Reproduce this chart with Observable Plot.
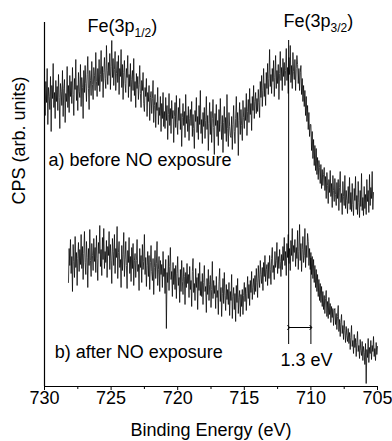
<!DOCTYPE html>
<html>
<head>
<meta charset="utf-8">
<script src="https://cdn.jsdelivr.net/npm/d3@7"></script>
<script src="https://cdn.jsdelivr.net/npm/@observablehq/plot@0.6"></script>
<style>
  html, body { margin: 0; padding: 0; background: white; }
</style>
</head>
<body>
<div id="chart"></div>
<script>
// ---- data ----
const step = 0.05;
const aStart = 730.0;   // spectrum a) first binding energy (eV)
const bStart = 728.2;   // spectrum b) first binding energy (eV)

// a) before NO exposure (arb. units), one row per eV
const aCounts = [
296,271,305,284,318,262,299,290,277,310,255,301,288,323,279,294,268,306,285,300,
276,312,289,258,303,295,281,316,270,298,307,264,293,285,320,279,301,274,311,290,
305,283,319,292,271,308,297,327,286,301,276,314,295,289,322,280,309,299,268,316,
294,321,303,285,312,330,298,277,316,306,291,325,302,287,319,311,296,334,305,290,
318,301,327,295,312,336,305,320,289,314,329,308,298,341,316,302,324,311,333,297,
320,346,309,328,301,317,335,296,313,325,304,331,292,318,310,337,299,322,287,314,
326,303,294,318,309,331,289,312,300,323,285,307,316,296,328,291,305,279,313,298,
310,287,302,321,293,279,306,296,314,283,275,299,290,308,270,294,285,301,266,289,
295,273,288,306,264,281,292,259,284,276,299,262,279,271,290,255,283,268,294,260,
275,258,289,266,281,247,272,293,261,278,253,286,268,276,244,270,284,259,291,264,
252,279,266,288,257,273,240,269,283,261,275,249,292,263,271,255,280,246,268,277,
261,285,250,272,258,238,276,265,289,254,270,247,281,262,296,253,267,243,274,260,
279,248,266,290,257,271,236,263,284,252,275,244,268,287,259,232,273,261,282,250,
266,241,277,255,288,262,247,271,234,264,280,253,269,245,292,258,240,274,260,251,
249,270,237,262,281,255,243,268,290,259,274,231,266,284,252,277,261,246,286,269,
258,279,266,293,251,275,287,264,298,272,283,256,290,276,301,268,285,294,273,288,
275,297,284,269,305,289,311,280,296,318,290,303,281,314,298,323,292,308,337,300,
312,293,318,305,326,290,309,331,298,316,303,322,287,313,335,306,319,296,328,310,
324,301,316,338,306,319,293,329,312,341,304,321,298,334,315,307,327,296,318,331,
322,303,318,296,314,321,292,308,285,301,280,296,271,290,265,281,257,274,250,262,
262,236,255,228,247,221,241,216,238,212,229,207,226,219,203,222,198,217,201,212,
219,196,210,188,214,201,183,207,194,216,190,203,179,211,196,185,208,192,181,204,
188,207,176,199,215,184,193,172,205,190,181,211,178,196,186,173,200,183,209,177,
194,175,203,182,171,198,186,210,177,191,172,205,184,169,196,180,213,176,189,171,
200,178,192,172,207,185,196,174,212,181,199,188,215,177,194
];

// b) after NO exposure (arb. units), one row per eV
const bCounts = [
104,138,121,147,113,130,95,142,125,109,150,119,134,101,128,144,115,137,122,152,
118,140,107,133,155,124,112,145,129,99,138,121,157,126,110,143,131,116,148,125,
139,114,151,128,106,144,133,161,120,137,111,149,127,158,118,135,124,146,109,140,
131,155,117,142,126,103,148,135,121,152,113,138,129,160,108,134,145,119,127,99,
141,116,132,154,110,127,145,121,98,136,124,149,113,130,105,139,118,143,101,126,
133,109,126,147,115,122,96,138,119,131,104,142,117,125,152,112,129,100,121,135,
110,131,97,124,141,115,106,128,92,119,136,108,123,145,101,117,130,95,126,112,
122,99,135,110,118,93,127,58,114,104,131,96,120,139,107,115,90,124,102,118,
97,121,88,113,130,101,109,84,117,95,126,105,92,119,110,82,114,99,123,103,
112,89,120,97,106,80,115,128,94,103,86,118,99,109,77,113,96,124,91,105,
90,113,82,104,121,95,100,74,108,92,117,86,102,111,79,97,125,88,106,93,
101,78,110,89,96,72,105,118,85,99,70,93,108,83,114,91,76,102,87,97,
82,104,71,95,86,112,68,90,99,77,93,65,101,84,108,73,89,96,70,92,
80,97,72,91,104,85,99,76,93,110,88,102,81,106,94,115,87,99,108,92,
111,95,118,104,89,121,108,99,126,112,103,119,96,124,110,131,105,117,122,101,
124,108,131,117,102,128,139,114,121,107,135,119,126,144,113,130,118,137,125,110,
132,117,140,126,149,121,135,111,143,129,152,123,138,116,146,131,158,125,141,134,
147,120,139,128,156,117,135,162,126,143,115,137,150,124,131,158,119,141,129,153,
145,121,138,117,134,112,130,108,127,104,121,99,117,95,112,90,107,86,103,84,
100,80,95,77,91,73,88,96,70,85,68,89,72,83,64,80,69,78,61,76,
78,62,73,57,70,81,55,67,50,64,72,53,61,47,66,56,44,60,51,45,
58,43,54,37,49,61,40,46,33,52,39,48,30,44,55,35,41,28,47,36,
31,45,26,40,34,22,43,3,37,29,48,24,39,33,46,27,41,35,50,30,
38,26,44,32,40
];

const majorTicks = [730, 725, 720, 715, 710, 705];
const minorTicks = [727.5, 722.5, 717.5, 712.5, 707.5];

// peak labels
const peakMain = ["Fe(3p", "Fe(3p"];
const peakSub = ["1/2", "3/2"];
const peakE = [726.77, 712.06];
const peakY = [355, 360];

// spectrum labels
const noteText = ["a) before NO exposure", "b) after NO exposure"];
const noteE = [729.7, 729.23];
const noteY = [221, 29];

// peak-shift markers
const shiftE = [711.67, 710.0];
const shiftTop = [346, 128];
const shiftBottom = [42, 42];
const shiftArrowY = 59;
const shiftText = "1.3 eV";
const shiftTextY = 21;

const xLabel = "Binding Energy (eV)";
const yLabel = "CPS (arb. units)";

// ---- tables ----
const seriesA = aCounts.map((c, i) => ({E: (aStart * 100 - i * 5) / 100, cps: c}));
const seriesB = bCounts.map((c, i) => ({E: (bStart * 100 - i * 5) / 100, cps: c}));
const peaks = peakMain.map((m, i) => ({main: m, sub: peakSub[i], E: peakE[i], y: peakY[i]}));
const notes = noteText.map((t, i) => ({t, E: noteE[i], y: noteY[i]}));
const shifts = shiftE.map((e, i) => ({E: e, y1: shiftBottom[i], y2: shiftTop[i]}));

function subRender(index, scales, values, dimensions, context, next) {
  const g = next(index, scales, values, dimensions, context);
  const texts = g.querySelectorAll("text");
  texts.forEach((t, j) => {
    const d = peaks[index[j]];
    t.textContent = "";
    const ns = "http://www.w3.org/2000/svg";
    const t1 = document.createElementNS(ns, "tspan");
    t1.textContent = d.main;
    const t2 = document.createElementNS(ns, "tspan");
    t2.textContent = d.sub;
    t2.setAttribute("font-size", "12");
    t2.setAttribute("dy", "5");
    const t3 = document.createElementNS(ns, "tspan");
    t3.textContent = ")";
    t3.setAttribute("dy", "-5");
    t.append(t1, t2, t3);
  });
  return g;
}

const chart = Plot.plot({
  width: 392,
  height: 441,
  marginLeft: 44,
  marginRight: 15,
  marginTop: 22,
  marginBottom: 55,
  x: {domain: [730, 705], label: null},
  y: {domain: [0, 364], axis: null},
  style: {fontFamily: "'Liberation Sans', Arial, sans-serif", fontSize: "18px", color: "black", background: "white"},
  marks: [
    Plot.axisX({ticks: majorTicks, tickSize: 4, tickPadding: 1, tickFormat: d => String(d), label: null, fontSize: 18}),
    Plot.axisX({ticks: minorTicks, tickSize: 3, tickFormat: () => "", label: null}),
    Plot.ruleX([730], {stroke: "black", strokeWidth: 1.2}),
    Plot.ruleY([0], {stroke: "black", strokeWidth: 1.2}),
    Plot.line(seriesA, {x: "E", y: "cps", stroke: "black", strokeWidth: 0.75}),
    Plot.line(seriesB, {x: "E", y: "cps", stroke: "black", strokeWidth: 0.75}),
    Plot.ruleX(shifts, {x: "E", y1: "y1", y2: "y2", stroke: "black", strokeWidth: 1}),
    Plot.link([{x1: shiftE[0], x2: shiftE[1], y: shiftArrowY}], {x1: "x1", x2: "x2", y1: "y", y2: "y", stroke: "black", strokeWidth: 1, markerStart: "arrow", markerEnd: "arrow"}),
    Plot.text([shiftText], {x: (shiftE[0] + shiftE[1]) / 2 - 0.5, y: shiftTextY, text: d => d, textAnchor: "middle", lineAnchor: "bottom", fontSize: 18}),
    Plot.text(notes, {x: "E", y: "y", text: "t", textAnchor: "start", lineAnchor: "bottom", fontSize: 18}),
    Plot.text(peaks, {x: "E", y: "y", text: "main", textAnchor: "start", lineAnchor: "bottom", fontSize: 18, render: subRender}),
    Plot.text([xLabel], {frameAnchor: "bottom", dy: 49, lineAnchor: "bottom", fontSize: 18}),
    Plot.text([yLabel], {frameAnchor: "left", rotate: -90, dx: -25, fontSize: 18})
  ]
});
document.getElementById("chart").append(chart);
</script>
</body>
</html>
